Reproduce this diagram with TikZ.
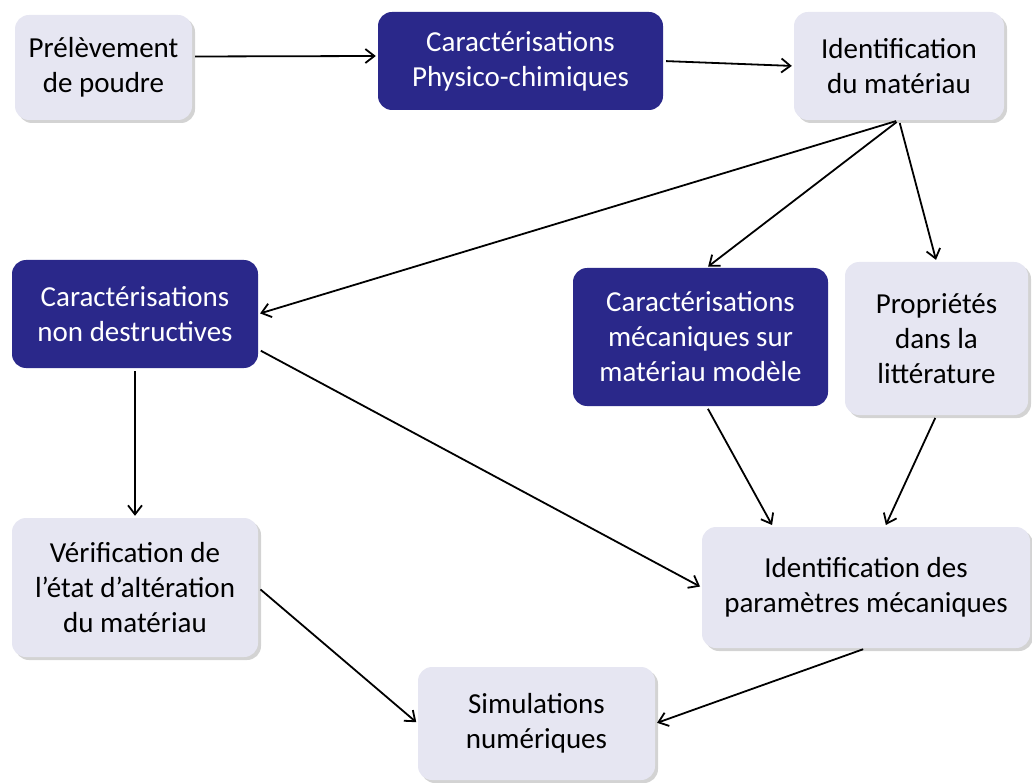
\documentclass[tikz,border=0pt]{standalone}
\usepackage{fontspec}
\setmainfont{Carlito}
\usepackage{tikz}
\usetikzlibrary{arrows.meta, shadows}

\definecolor{boxlight}{RGB}{230,230,242}
\definecolor{boxnavy}{RGB}{42,40,138}

\begin{document}
\begin{tikzpicture}[
    x=1pt, y=1pt,
    every node/.style={font=\fontsize{29}{35}\selectfont},
    lightbox/.style={rectangle, rounded corners=14pt, fill=boxlight, align=center, inner sep=0pt,
        drop shadow={shadow xshift=3pt, shadow yshift=-3pt, opacity=0.35, fill=gray}},
    darkbox/.style={rectangle, rounded corners=14pt, fill=boxnavy, text=white, align=center, inner sep=0pt},
    flow/.style={-{Straight Barb[length=9pt, width=14pt, line width=1.8pt]}, line width=1.8pt, shorten >=2pt, shorten <=3pt}
]
    \useasboundingbox (0,0) rectangle (1032,-783);

    % Boxes
    \node[lightbox, minimum width=177, minimum height=105] (prel) at (103.5,-67.5) {Prélèvement\\de poudre};
    \node[darkbox, minimum width=285, minimum height=98] (phys) at (520.5,-61) {Caractérisations\\Physico-chimiques};
    \node[lightbox, minimum width=210, minimum height=108] (iden) at (899,-66) {Identification\\du matériau};
    \node[darkbox, minimum width=246, minimum height=108] (nondest) at (135,-314) {Caractérisations\\non destructives};
    \node[darkbox, minimum width=255, minimum height=138] (mech) at (700.5,-337) {Caractérisations\\mécaniques sur\\matériau modèle};
    \node[lightbox, minimum width=183, minimum height=153] (prop) at (936.5,-338.5) {Propriétés\\dans la\\littérature};
    \node[lightbox, minimum width=246, minimum height=139] (verif) at (135,-587.5) {Vérification de\\l’état d’altération\\du matériau};
    \node[lightbox, minimum width=328, minimum height=121] (param) at (866,-587.5) {Identification des\\paramètres mécaniques};
    \node[lightbox, minimum width=237, minimum height=113] (sim) at (536.5,-723.5) {Simulations\\numériques};

    % Arrows
    \draw[flow] ([yshift=11pt]prel.east) -- ([yshift=5pt]phys.west);
    \draw[flow] (phys.east) -- (iden.west);
    \draw[flow] (iden.south) -- (nondest.east);
    \draw[flow] (iden.south) -- ([xshift=6pt]mech.north);
    \draw[flow] (iden.south) -- (prop.north);
    \draw[flow] (nondest.south) -- (verif.north);
    \draw[flow] (nondest.-16) -- (param.west);
    \draw[flow] ([xshift=6pt]mech.south) -- ([xshift=-93pt]param.north);
    \draw[flow] (prop.south) -- ([xshift=19pt]param.north);
    \draw[flow] (verif.east) -- (sim.west);
    \draw[flow] (param.south) -- (sim.east);
\end{tikzpicture}
\end{document}
